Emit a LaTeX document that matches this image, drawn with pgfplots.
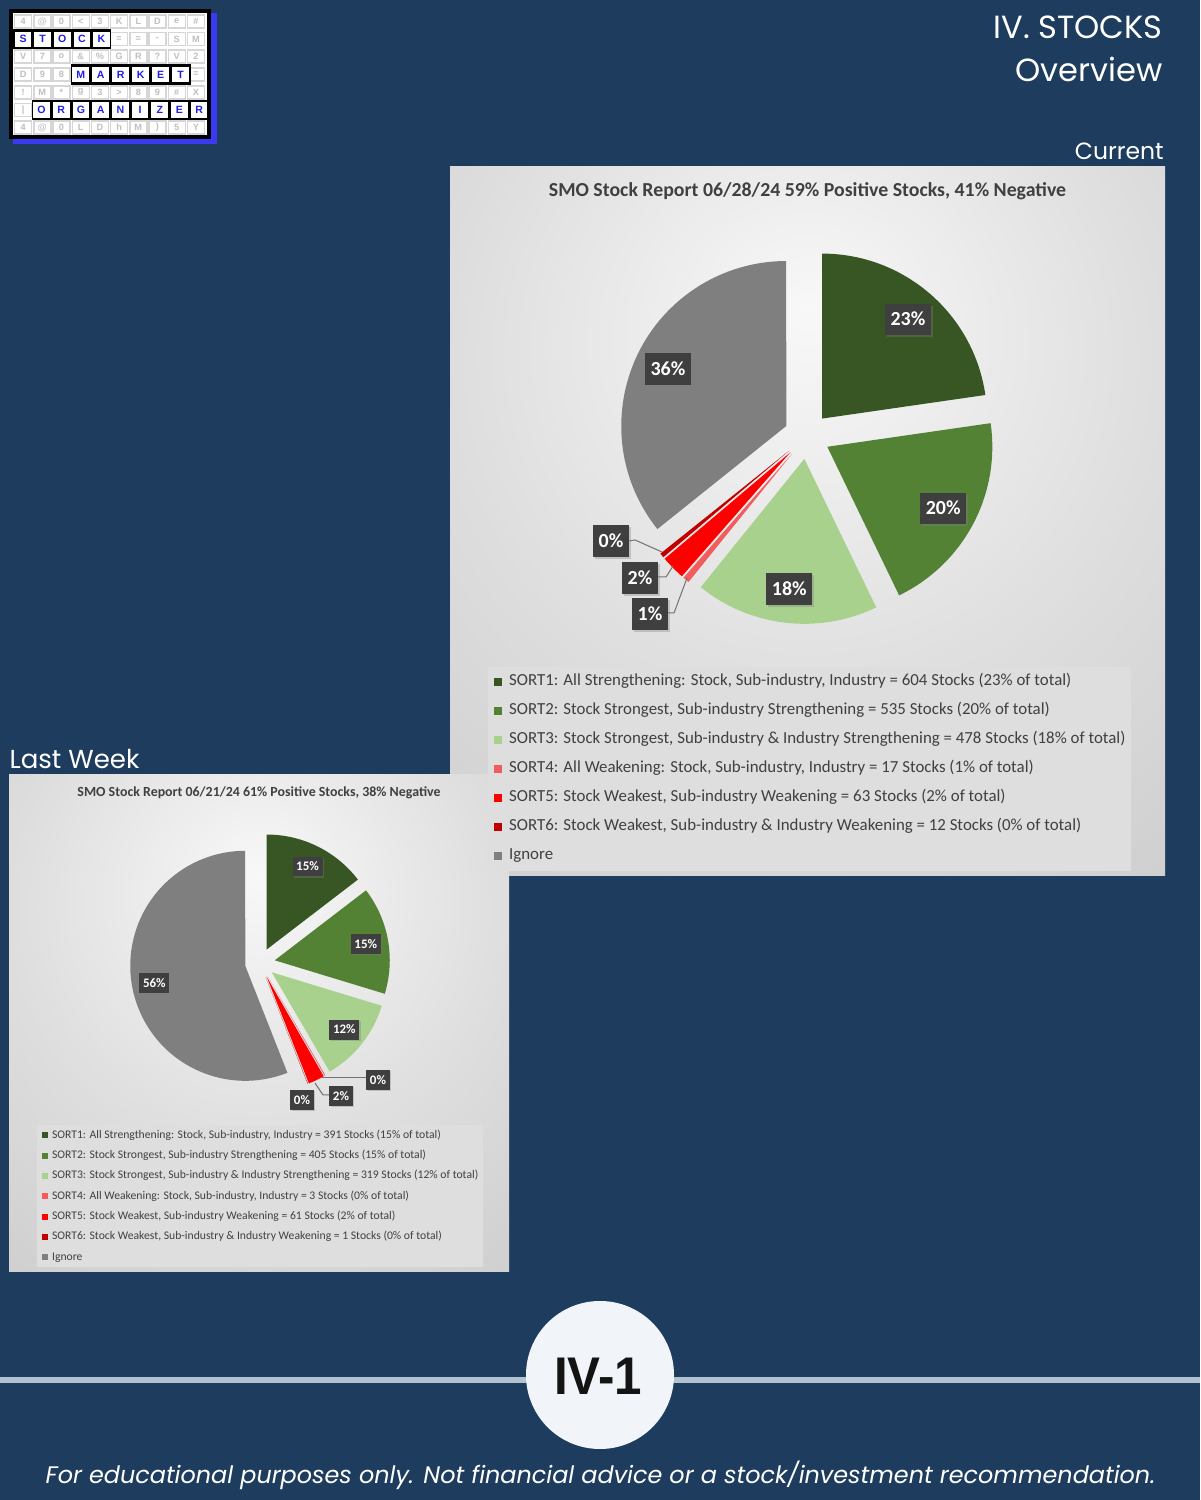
\documentclass[border=0pt]{standalone}
\usepackage{pgfplots}
\usepackage{pgfplotstable}
\pgfplotsset{compat=1.18}
\usepackage{fontspec}
\setmainfont{Carlito}
\newfontfamily\poppins{Poppins}
\newfontfamily\arialfont{Liberation Sans}
\usetikzlibrary{shadows}

\definecolor{pagebg}{HTML}{1E3D5E}
\definecolor{sortA}{HTML}{375623}
\definecolor{sortB}{HTML}{548235}
\definecolor{sortC}{HTML}{A9D18E}
\definecolor{sortD}{HTML}{F25C5C}
\definecolor{sortE}{HTML}{FF0000}
\definecolor{sortF}{HTML}{C00000}
\definecolor{ignore}{HTML}{7F7F7F}
\definecolor{labelbg}{HTML}{3F3F3F}
\definecolor{txtgray}{HTML}{404040}
\definecolor{legendbg}{HTML}{DEDEDE}
\definecolor{bglight}{HTML}{F8F8F8}
\definecolor{bgdark}{HTML}{BDBDBD}
\definecolor{rulecol}{HTML}{B3C2D1}
\definecolor{disc}{HTML}{F1F5FA}
\definecolor{logoblue}{HTML}{3A3AF5}
\definecolor{letterblue}{HTML}{1F1FE6}

\pgfdeclareradialshading{chartbg}{\pgfpoint{0bp}{15bp}}{%
  color(0bp)=(bglight); color(25bp)=(bglight!55!bgdark);
  color(50bp)=(bglight!20!bgdark); color(75bp)=(bgdark); color(100bp)=(bgdark)}

% stocks per sort, this week and last week
\pgfplotstableread{
sort stocks colour
1 604 sortA
2 535 sortB
3 478 sortC
4 17 sortD
5 63 sortE
6 12 sortF
7 950 ignore
}\weekcur
\pgfplotstableread{
sort stocks colour
1 391 sortA
2 405 sortB
3 319 sortC
4 3 sortD
5 61 sortE
6 1 sortF
7 1500 ignore
}\weekprev

% #1 table, #2 radius (px), #3 explosion (px), #4 label style
\newcommand\drawpie[4]{%
  \pgfplotstablegetrowsof{#1}\pgfmathtruncatemacro\lastrow{\pgfplotsretval-1}%
  \gdef\pietotal{0}%
  \foreach \i in {0,...,\lastrow}{%
    \pgfplotstablegetelem{\i}{stocks}\of{#1}%
    \pgfmathsetmacro\t{\pietotal+\pgfplotsretval}\xdef\pietotal{\t}}%
  \gdef\piestart{0}%
  \foreach \i in {0,...,\lastrow}{%
    \pgfplotstablegetelem{\i}{stocks}\of{#1}\let\n\pgfplotsretval
    \pgfplotstablegetelem{\i}{colour}\of{#1}\let\c\pgfplotsretval
    \pgfmathsetmacro\a{\piestart}%
    \pgfmathsetmacro\b{\a+\n/\pietotal*360}%
    \xdef\piestart{\b}%
    \pgfmathsetmacro\m{90-(\a+\b)/2}%
    \pgfmathsetmacro\sa{90-\a}%
    \pgfmathsetmacro\sb{90-\b}%
    \fill[fill=\c] (axis cs:0,0) ++(\m:#3*0.25mm) -- ++(\sa:#2*0.25mm)
      arc[start angle=\sa, end angle=\sb, radius=#2*0.25mm] -- cycle;
    \pgfmathtruncatemacro\p{round(\n/\pietotal*100)}%
    \ifnum\p>5
      \path (axis cs:0,0) ++(\m:#2*0.935*0.25mm) node[#4] {\p\%};
    \fi
  }%
}

\tikzset{
  curlabel/.style={fill=labelbg, text=white, font=\bfseries\fontsize{14.2}{16}\selectfont,
    inner xsep=1.4mm, inner ysep=2.3mm, text height=3.3mm, text depth=0mm,
    drop shadow={shadow xshift=0.5mm, shadow yshift=-0.5mm, opacity=0.35}},
  lastlabel/.style={fill=labelbg, text=white, font=\bfseries\fontsize{9.25}{11}\selectfont,
    inner xsep=0.9mm, inner ysep=1.4mm, text height=2.15mm, text depth=0mm,
    drop shadow={shadow xshift=0.35mm, shadow yshift=-0.35mm, opacity=0.35}},
  leader/.style={draw=black!55, line width=0.25mm},
  fadecell/.style={draw=black!16, line width=0.35mm, fill=white, minimum width=4.25mm,
    minimum height=3.3mm, inner sep=0pt, text=black!25,
    font=\arialfont\bfseries\fontsize{6.5}{7}\selectfont},
  wordcell/.style={fill=white, minimum height=3.8mm, inner sep=0pt, text=letterblue,
    font=\arialfont\bfseries\fontsize{7.5}{8}\selectfont},
}

\pgfplotsset{piebox/.style={x=0.25mm, y=0.25mm, scale only axis, hide axis, clip=false,
  anchor=south west, legend cell align=left,
  title style={at={(0.5,1)}, anchor=base, text=txtgray}}}

\newcommand\fadedrow[3]{% y centre, first column, letters
  \foreach \ch [count=\k from #2] in {#3}{%
    \node[fadecell] at ({13.5+19.2*(\k-0.5)},#1) {\ch};}}

\begin{document}
\begin{tikzpicture}[x=0.25mm, y=0.25mm]
% page furniture in image pixels, y downwards
\begin{scope}[shift={(0,1500)}, yscale=-1]
\fill[pagebg] (0,0) rectangle (1200,1500);

% logo
\fill[logoblue] (13,13) rectangle (217,144);
\fill[black] (9,9) rectangle (211,139);
\fill[white] (13,13) rectangle (207,135);
\fadedrow{21.5}{1}{4,@,0,<,3,K,L,D,e,\#}
\fadedrow{39}{6}{=,=,-,S,M}
\fadedrow{56.5}{1}{V,7,o,\&,\%,G,R,?,V,2}
\fadedrow{74.5}{1}{D,9,8}
\fadedrow{74.5}{10}{=}
\fadedrow{92.5}{1}{!,M,*,g,3,>,8,9,\#,X}
\fadedrow{110}{1}{|}
\fadedrow{127.5}{1}{4,@,0,L,D,h,M,),5,Y}
\fill[black] (13.3,29.3) rectangle (111.3,49);
\foreach \ch [count=\k] in {S,T,O,C,K}
  \node[wordcell, minimum width=4.15mm] at ({13.3+19.6*(\k-0.5)},39.2) {\ch};
\fill[black] (70.7,64) rectangle (190.7,85);
\foreach \ch [count=\k] in {M,A,R,K,E,T}
  \node[wordcell, minimum width=4.25mm] at ({70.7+20*(\k-0.5)},74.5) {\ch};
\fill[black] (31.7,100) rectangle (209,120);
\foreach \ch [count=\k] in {O,R,G,A,N,I,Z,E,R}
  \node[wordcell, minimum width=4.15mm] at ({31.7+19.7*(\k-0.5)},110) {\ch};

% headings
\node[anchor=base east, inner sep=0pt, text=white, font=\poppins\fontsize{22.8}{27}\selectfont] at (1163,38.3) {IV. STOCKS};
\node[anchor=base east, inner sep=0pt, text=white, font=\poppins\fontsize{22.8}{27}\selectfont] at (1163,81.7) {Overview};
\node[anchor=base east, inner sep=0pt, text=white, font=\poppins\fontsize{16.7}{20}\selectfont] at (1164,159.3) {Current};
\node[anchor=base west, inner sep=0pt, text=white, font=\poppins\fontsize{18.5}{22}\selectfont] at (9.3,768.3) {Last Week};

% chart backgrounds
\shade[shading=chartbg] (450,167) rectangle (1165,876);
\shade[shading=chartbg] (9,775) rectangle (509,1272);

% footer
\fill[rulecol] (0,1377.4) rectangle (1200,1382.6);
\fill[disc] (600,1375) circle[radius=18.5mm];
\node[anchor=base, inner sep=0pt, xscale=0.93, text=black!92, font=\arialfont\bfseries\fontsize{37.7}{40}\selectfont] at (598,1395) {IV-1};
\node[anchor=base, inner sep=0pt, text=white, font=\poppins\itshape\fontsize{17}{20}\selectfont] at (600.5,1483.3) {For educational purposes only. Not financial advice or a stock/investment recommendation.};
\end{scope}

% current week (chart box 450..1165 x 167..876 px, y from the bottom: 624)
\begin{axis}[piebox, at={(450,624)},
  xmin=-357, xmax=358, ymin=-440, ymax=269,
  title={SMO Stock Report 06/28/24 59\% Positive Stocks, 41\% Negative},
  title style={yshift=-9.6mm, font=\bfseries\fontsize{14.1}{16}\selectfont},
  legend style={at={(0.053,0.295)}, anchor=north west, draw=none, fill=legendbg,
    text=txtgray, font=\fontsize{12}{14}\selectfont,
    inner xsep=1.5mm, inner ysep=1.8mm, row sep=3.45mm,
    nodes={inner sep=0pt, text height=2.9mm, text depth=0.9mm},
    /tikz/every odd column/.append style={column sep=1.75mm}},
  legend image code/.code={\fill[#1, draw=none] (0mm,-1mm) rectangle (2mm,1mm);},
]
\pgfplotsextra{\drawpie{\weekcur}{165}{23}{curlabel}
  \draw[leader] (axis cs:-178,-105) -- (axis cs:-172,-104) -- (axis cs:-145,-116);
  \node[curlabel] at (axis cs:-196,-105) {0\%};
  \draw[leader] (axis cs:-149,-141) -- (axis cs:-141,-141) -- (axis cs:-134,-130);
  \node[curlabel] at (axis cs:-167,-142) {2\%};
  \draw[leader] (axis cs:-140,-177) -- (axis cs:-133,-177) -- (axis cs:-120,-142);
  \node[curlabel] at (axis cs:-157,-178) {1\%};}
\addlegendimage{fill=sortA}
\addlegendentry{SORT1: All Strengthening: Stock, Sub-industry, Industry = 604 Stocks (23\% of total)}
\addlegendimage{fill=sortB}
\addlegendentry{SORT2: Stock Strongest, Sub-industry Strengthening = 535 Stocks (20\% of total)}
\addlegendimage{fill=sortC}
\addlegendentry{SORT3: Stock Strongest, Sub-industry \& Industry Strengthening = 478 Stocks (18\% of total)}
\addlegendimage{fill=sortD}
\addlegendentry{SORT4: All Weakening: Stock, Sub-industry, Industry = 17 Stocks (1\% of total)}
\addlegendimage{fill=sortE}
\addlegendentry{SORT5: Stock Weakest, Sub-industry Weakening = 63 Stocks (2\% of total)}
\addlegendimage{fill=sortF}
\addlegendentry{SORT6: Stock Weakest, Sub-industry \& Industry Weakening = 12 Stocks (0\% of total)}
\addlegendimage{fill=ignore}
\addlegendentry{Ignore}
\end{axis}

% last week (chart box 9..509 x 775..1272 px, y from the bottom: 228)
\begin{axis}[piebox, at={(9,228)},
  xmin=-251, xmax=249, ymin=-309, ymax=188,
  title={SMO Stock Report 06/21/24 61\% Positive Stocks, 38\% Negative},
  title style={yshift=-7.6mm, font=\bfseries\fontsize{9.9}{12}\selectfont},
  legend style={at={(0.056,0.296)}, anchor=north west, draw=none, fill=legendbg,
    text=txtgray, font=\fontsize{8.3}{10}\selectfont,
    inner xsep=1.2mm, inner ysep=1.25mm, row sep=2.48mm,
    nodes={inner sep=0pt, text height=2.0mm, text depth=0.6mm},
    /tikz/every odd column/.append style={column sep=1mm}},
  legend image code/.code={\fill[#1, draw=none] (0mm,-0.75mm) rectangle (1.5mm,0.75mm);},
]
\pgfplotsextra{\drawpie{\weekprev}{115}{15}{lastlabel}
  \draw[leader] (axis cs:106,-115) -- (axis cs:62,-115);
  \node[lastlabel] at (axis cs:118,-117) {0\%};
  \draw[leader] (axis cs:69,-132) -- (axis cs:63,-132) -- (axis cs:55,-120);
  \node[lastlabel] at (axis cs:81,-133) {2\%};
  \node[lastlabel] at (axis cs:42,-137) {0\%};}
\addlegendimage{fill=sortA}
\addlegendentry{SORT1: All Strengthening: Stock, Sub-industry, Industry = 391 Stocks (15\% of total)}
\addlegendimage{fill=sortB}
\addlegendentry{SORT2: Stock Strongest, Sub-industry Strengthening = 405 Stocks (15\% of total)}
\addlegendimage{fill=sortC}
\addlegendentry{SORT3: Stock Strongest, Sub-industry \& Industry Strengthening = 319 Stocks (12\% of total)}
\addlegendimage{fill=sortD}
\addlegendentry{SORT4: All Weakening: Stock, Sub-industry, Industry = 3 Stocks (0\% of total)}
\addlegendimage{fill=sortE}
\addlegendentry{SORT5: Stock Weakest, Sub-industry Weakening = 61 Stocks (2\% of total)}
\addlegendimage{fill=sortF}
\addlegendentry{SORT6: Stock Weakest, Sub-industry \& Industry Weakening = 1 Stocks (0\% of total)}
\addlegendimage{fill=ignore}
\addlegendentry{Ignore}
\end{axis}
\end{tikzpicture}
\end{document}
